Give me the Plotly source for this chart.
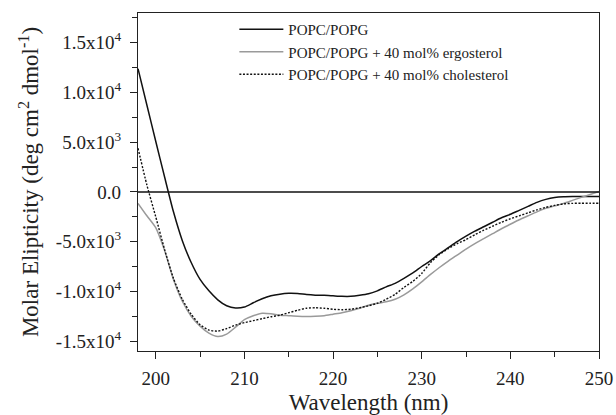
import plotly.graph_objects as go

wavelength = list(range(198, 251))

popc_popg = [12400, 8750, 5100, 1500, -2000, -4900, -7100, -8800, -9950, -10850,
             -11450, -11680, -11580, -11150, -10750, -10450, -10280, -10200, -10220, -10320,
             -10380, -10400, -10450, -10500, -10500, -10400, -10250, -9950, -9550, -9200,
             -8700, -8150, -7500, -6900, -6200, -5600, -5000, -4450, -3950, -3500,
             -3050, -2600, -2250, -1850, -1450, -1050, -750, -560, -480, -460,
             -460, -465, -470]

ergosterol = [-1150, -2400, -3600, -5900, -8800, -11000, -12500, -13500, -14200, -14550,
              -14300, -13600, -12850, -12450, -12200, -12250, -12400, -12450, -12500, -12520,
              -12500, -12450, -12300, -12150, -11950, -11700, -11400, -11200, -11050, -10800,
              -10350, -9750, -9050, -8300, -7600, -6950, -6350, -5750, -5200, -4700,
              -4200, -3700, -3250, -2800, -2400, -2000, -1650, -1400, -1150, -850,
              -550, -250, 50]

cholesterol = [4400, 700, -2500, -5800, -8700, -10800, -12300, -13350, -13900, -14000,
               -13750, -13400, -13150, -12950, -12750, -12550, -12400, -12150, -11900, -11700,
               -11650, -11700, -11800, -11850, -11800, -11650, -11450, -11200, -10800, -10300,
               -9600, -9000, -8200, -7100, -6300, -5700, -5200, -4800, -4300, -3850,
               -3450, -3050, -2700, -2400, -2100, -1800, -1550, -1350, -1200, -1150,
               -1140, -1140, -1140]

series_names = ["POPC/POPG", "POPC/POPG + 40 mol% ergosterol", "POPC/POPG + 40 mol% cholesterol"]

y_tick_vals = [-15000, -10000, -5000, 0, 5000, 10000, 15000]
y_tick_text = ["-1.5x10<sup>4</sup>", "-1.0x10<sup>4</sup>", "-5.0x10<sup>3</sup>", "0.0",
               "5.0x10<sup>3</sup>", "1.0x10<sup>4</sup>", "1.5x10<sup>4</sup>"]
x_tick_vals = [200, 210, 220, 230, 240, 250]

FONT = "Liberation Serif, Times New Roman, serif"

fig = go.Figure()
fig.add_trace(go.Scatter(x=wavelength, y=popc_popg, mode="lines", name=series_names[0],
                         line=dict(color="#111111", width=1.5, shape="spline", smoothing=0.6)))
fig.add_trace(go.Scatter(x=wavelength, y=ergosterol, mode="lines", name=series_names[1],
                         line=dict(color="#9a9a9a", width=1.5, shape="spline", smoothing=0.6)))
fig.add_trace(go.Scatter(x=wavelength, y=cholesterol, mode="lines", name=series_names[2],
                         line=dict(color="#111111", width=1.4, dash="2px,1.6px", shape="spline", smoothing=0.6)))

fig.add_hline(y=0, line=dict(color="#111111", width=1.5))

fig.update_layout(
    template="none",
    width=616, height=415,
    margin=dict(l=138, r=17, t=13, b=64, autoexpand=False),
    paper_bgcolor="white", plot_bgcolor="white",
    font=dict(family=FONT, color="#222222", size=19),
    showlegend=True,
    legend=dict(x=0.209, y=1.0, xanchor="left", yanchor="top",
                bgcolor="rgba(0,0,0,0)", font=dict(size=15, family=FONT, color="#222222"),
                itemwidth=44, tracegroupgap=0),
)

fig.update_xaxes(
    automargin=False,
    range=[198, 250], tickvals=x_tick_vals, ticks="outside", ticklen=7, tickwidth=1,
    tickcolor="#222222", showline=True, linecolor="#222222", linewidth=1.2, mirror=True,
    showgrid=False, zeroline=False,
    minor=dict(dtick=5, tick0=200, ticks="outside", ticklen=5, tickcolor="#222222", showgrid=False),
    tickfont=dict(size=19, family=FONT), ticklabelstandoff=3,
    title=dict(text="Wavelength (nm)", font=dict(size=23, family=FONT), standoff=8),
)
fig.update_yaxes(
    automargin=False,
    range=[-16000, 18000], tickvals=y_tick_vals, ticktext=y_tick_text, ticks="outside",
    ticklen=7, tickwidth=1, tickcolor="#222222", showline=True, linecolor="#222222",
    linewidth=1.2, mirror=True, showgrid=False, zeroline=False,
    minor=dict(dtick=2500, tick0=0, ticks="outside", ticklen=5, tickcolor="#222222", showgrid=False),
    tickfont=dict(size=19, family=FONT), ticklabelstandoff=5,
    title=dict(text="Molar Elipticity (deg cm<sup>2</sup> dmol<sup>-1</sup>)",
               font=dict(size=23, family=FONT), standoff=10),
)

fig.write_html("out.html")
